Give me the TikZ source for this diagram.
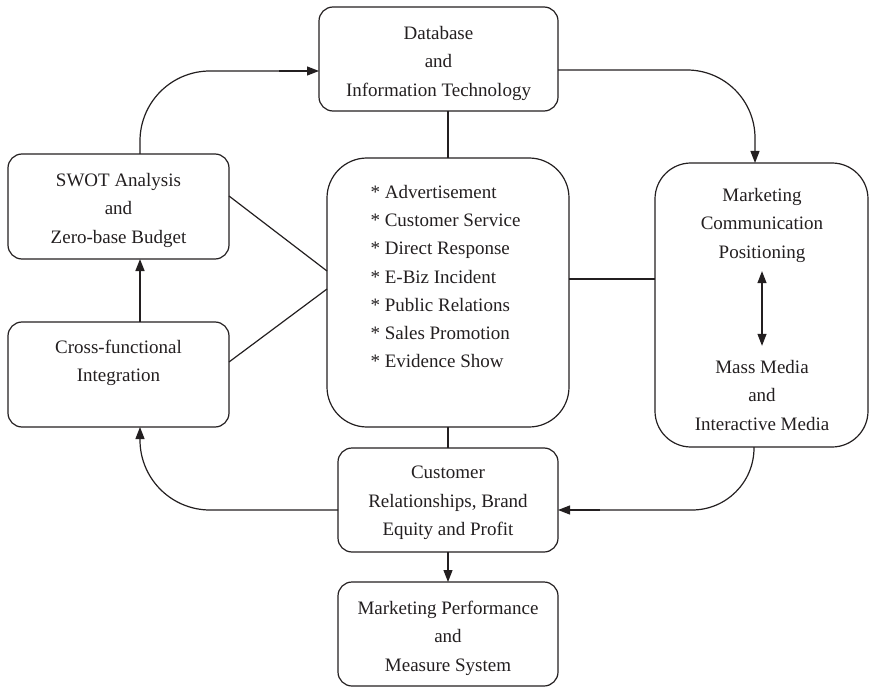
\documentclass[tikz,border=0pt]{standalone}
\usepackage{fontspec}
\setmainfont{Liberation Serif}
\usetikzlibrary{arrows.meta}
\definecolor{ink}{RGB}{35,31,32}
\begin{document}
\begin{tikzpicture}[x=1pt,y=-1pt,
  every node/.style={inner sep=0pt, outer sep=0pt, text=ink},
  box/.style={draw=ink, line width=1.2pt, rounded corners=#1},
  box/.default=14pt,
  lbl/.style={align=center, font=\fontsize{19}{28.5}\selectfont},
  link/.style={draw=ink, line width=1.2pt},
  tip/.style={Triangle[length=12pt,width=9pt]},
  flow/.style={link, -{Triangle[length=12pt,width=9pt]}},
  shaft/.style={draw=ink, line width=2pt}]
\useasboundingbox (0,0) rectangle (870,687);

% boxes
\node[box, minimum width=239pt, minimum height=104pt] (db)    at (438.5,59)  {};
\node[box, minimum width=221pt, minimum height=105pt] (swot)  at (118.5,206.5) {};
\node[box, minimum width=221pt, minimum height=105pt] (cross) at (118.5,374.5) {};
\node[box=40pt, minimum width=242pt, minimum height=269pt] (mix) at (448,292.5) {};
\node[box=36pt, minimum width=213pt, minimum height=284pt] (mc)  at (761.5,305) {};
\node[box, minimum width=220pt, minimum height=104pt] (cust)  at (448,500) {};
\node[box, minimum width=220pt, minimum height=104pt] (perf)  at (448,634) {};

% texts
\node[lbl] (dbt)    at (438.5,63) {Database\\and\\Information Technology};
\node[lbl] (swott)  at (118.5,210) {SWOT Analysis\\and\\Zero-base Budget};
\node[lbl] (crosst) at (118.5,363) {Cross-functional\\Integration};
\node[align=left, font=\fontsize{19}{28.2}\selectfont] (mixt) at (445.5,276.5)
  {* Advertisement\\* Customer Service\\* Direct Response\\* E-Biz Incident\\* Public Relations\\* Sales Promotion\\* Evidence Show};
\node[lbl] (mct)    at (762,225) {Marketing\\Communication\\Positioning};
\node[lbl] (mcb)    at (762,395) {Mass Media\\and\\Interactive Media};
\node[lbl] (custt)  at (448,503) {Customer\\Relationships, Brand\\Equity and Profit};
\node[lbl] (perft)  at (448,638) {Marketing Performance\\and\\Measure System};

% outer loop
\draw[flow, rounded corners=70pt] ([xshift=21.5pt]swot.north) |- ([yshift=-12pt]db.west);
\draw[shaft] ([xshift=-40pt,yshift=-12pt]db.west) -- ([xshift=-10pt,yshift=-12pt]db.west);
\draw[flow, rounded corners=68pt] ([yshift=-11pt]db.east) -| ([xshift=-6.5pt]mc.north);
\draw[flow, rounded corners=62pt] ([xshift=-7.5pt]mc.south) |- ([yshift=-10pt]cust.east);
\draw[shaft] ([xshift=42pt,yshift=-10pt]cust.east) -- ([xshift=10pt,yshift=-10pt]cust.east);
\draw[flow, rounded corners=70pt] ([yshift=-10pt]cust.west) -| ([xshift=21.5pt]cross.south);
\draw[flow, line width=1.7pt] ([xshift=21.5pt]cross.north) -- ([xshift=21.5pt]swot.south);

% links to the mix box
\coordinate (mixr) at ([yshift=13.5pt]mix.east);
\draw[link] (mix.north |- db.south) -- (mix.north);
\draw[link] (mix.south) -- (cust.north);
\draw[link] ([yshift=10.5pt]swot.east) -- ([yshift=21.5pt]mix.west);
\draw[link] ([yshift=12.5pt]cross.east) -- ([yshift=3.5pt]mix.west);
\draw[link] (mixr) -- (mixr -| mc.west);

% inner and lower arrows
\draw[link, {Triangle[length=12pt,width=9pt]}-{Triangle[length=12pt,width=9pt]}]
  ([yshift=-9pt]mct.south) -- ([yshift=14pt]mcb.north);
\draw[flow] (cust.south) -- (perf.north);
\end{tikzpicture}
\end{document}
